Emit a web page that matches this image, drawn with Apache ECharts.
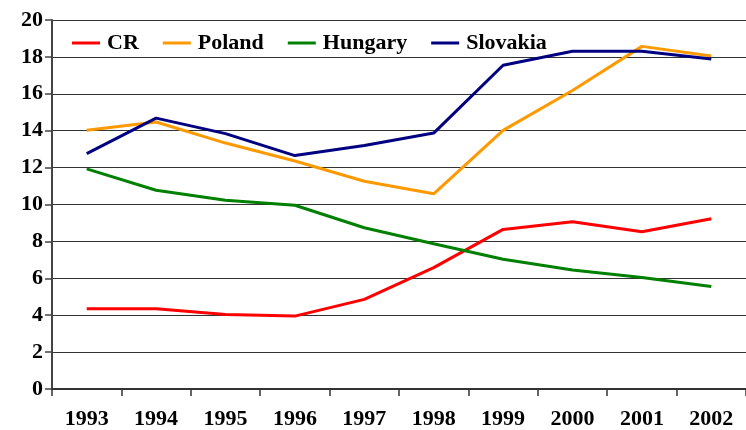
<!DOCTYPE html>
<html>
<head>
<meta charset="utf-8">
<script src="https://cdn.jsdelivr.net/npm/echarts@6/dist/echarts.min.js"></script>
<style>
  html, body { margin: 0; padding: 0; background: #fff; }
  #chart { width: 746px; height: 430px; }
</style>
</head>
<body>
<div id="chart"></div>
<script>
const years = ['1993', '1994', '1995', '1996', '1997', '1998', '1999', '2000', '2001', '2002']
const crData = [4.35, 4.35, 4.04, 3.95, 4.86, 6.58, 8.65, 9.06, 8.52, 9.23]
const polandData = [14.03, 14.47, 13.33, 12.36, 11.26, 10.58, 14.02, 16.18, 18.57, 18.05]
const hungaryData = [11.93, 10.77, 10.23, 9.96, 8.74, 7.87, 7.03, 6.45, 6.04, 5.55]
const slovakiaData = [12.76, 14.68, 13.84, 12.65, 13.2, 13.87, 17.55, 18.31, 18.31, 17.89]
const yTicks = [0, 2, 4, 6, 8, 10, 12, 14, 16, 18, 20]

const font = '"Liberation Serif", "Times New Roman", serif'

function makeLine(name, data, color) {
  return {
    name: name,
    type: 'line',
    data: data,
    symbol: 'none',
    smooth: false,
    lineStyle: { color: color, width: 3 },
    itemStyle: { color: color }
  }
}

let chart = echarts.init(document.getElementById('chart'))
let option = {
  animation: false,
  backgroundColor: '#fff',
  textStyle: { fontFamily: font },
  legend: {
    left: 72,
    top: 32,
    padding: 0,
    icon: 'rect',
    itemWidth: 28,
    itemHeight: 3,
    itemGap: 24,
    textStyle: { fontFamily: font, fontSize: 22, fontWeight: 'bold', color: '#000', padding: [0, 0, 0, 2] },
    data: ['CR', 'Poland', 'Hungary', 'Slovakia']
  },
  grid: {
    left: 52,
    top: 20,
    width: 708,
    height: 370,
    containLabel: false
  },
  xAxis: {
    type: 'category',
    data: years,
    boundaryGap: true,
    axisLine: { show: true, lineStyle: { color: '#333', width: 2 } },
    axisTick: { show: true, alignWithLabel: false, length: 7, lineStyle: { color: '#333', width: 1.5 } },
    axisLabel: { fontFamily: font, fontSize: 22, fontWeight: 'bold', color: '#000', margin: 19 },
    splitLine: { show: false }
  },
  yAxis: {
    type: 'value',
    min: yTicks[0],
    max: yTicks[yTicks.length - 1],
    interval: 2,
    axisLine: { show: true, lineStyle: { color: '#444', width: 2 } },
    axisTick: { show: true, length: 7, lineStyle: { color: '#444', width: 1.5 } },
    axisLabel: { fontFamily: font, fontSize: 22, fontWeight: 'bold', color: '#000', margin: 9 },
    splitLine: { show: true, lineStyle: { color: '#333', width: 1 } }
  },
  series: [
    makeLine('CR', crData, '#ff0000'),
    makeLine('Poland', polandData, '#ff9900'),
    makeLine('Hungary', hungaryData, '#008000'),
    makeLine('Slovakia', slovakiaData, '#000080')
  ]
}
chart.setOption(option)
</script>
</body>
</html>
